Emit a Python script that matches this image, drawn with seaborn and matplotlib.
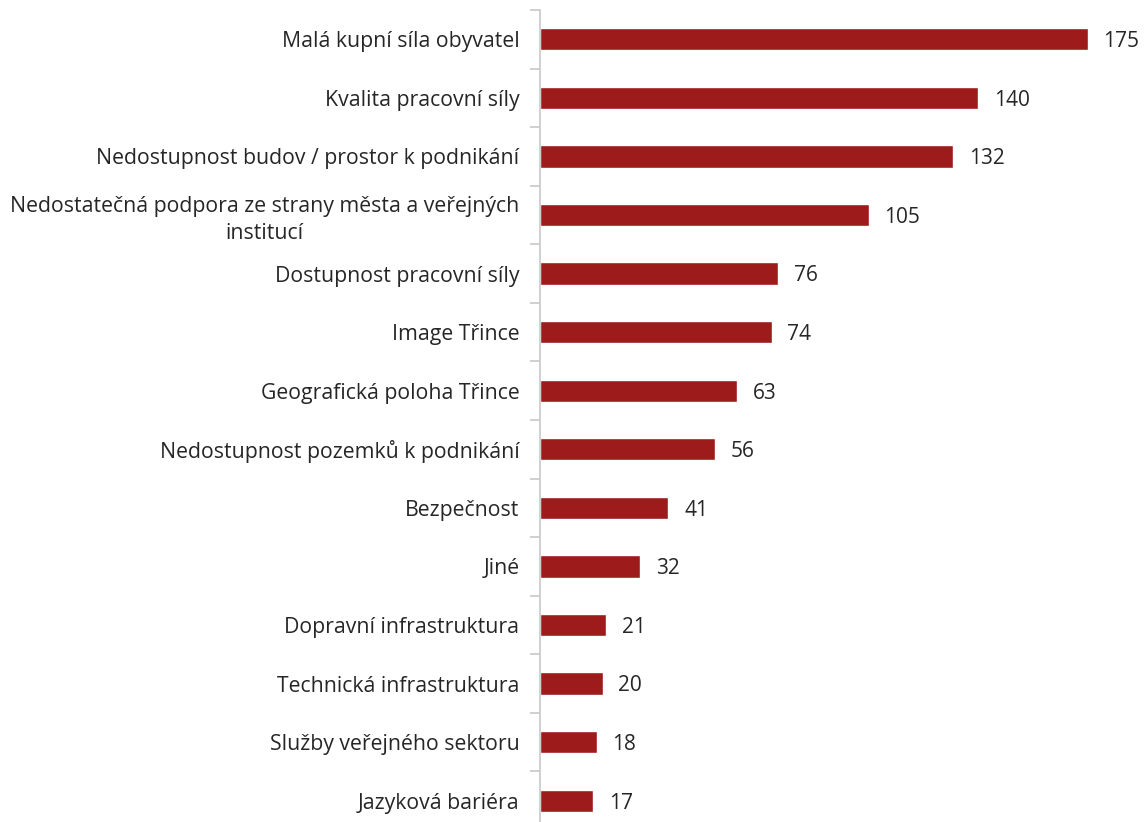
import matplotlib.pyplot as plt
import seaborn as sns
import numpy as np

categories = [
    "Malá kupní síla obyvatel",
    "Kvalita pracovní síly",
    "Nedostupnost budov / prostor k podnikání",
    "Nedostatečná podpora ze strany města a veřejných\ninstitucí",
    "Dostupnost pracovní síly",
    "Image Třince",
    "Geografická poloha Třince",
    "Nedostupnost pozemků k podnikání",
    "Bezpečnost",
    "Jiné",
    "Dopravní infrastruktura",
    "Technická infrastruktura",
    "Služby veřejného sektoru",
    "Jazyková bariéra",
]
values = [175, 140, 132, 105, 76, 74, 63, 56, 41, 32, 21, 20, 18, 17]

sns.set_style("white")
plt.rcParams['font.family'] = ['Open Sans', 'DejaVu Sans']

fig = plt.figure(figsize=(11.47, 8.22), dpi=100)
ax = fig.add_axes([0.471, -0.0097, 0.529, 0.9976])

sns.barplot(x=values, y=categories, orient='h', color='#9e1b1b',
            width=0.38, saturation=1, ax=ax)

for i, v in enumerate(values):
    ax.text(v + 5, i + 0.04, str(v), va='center', ha='left', fontsize=15, color='#262626')

ax.set_xlim(0, 194)
ax.set_ylim(13.5, -0.5)
ax.set_xticks([])
ax.set_xlabel("")
ax.set_ylabel("")
for s in ['top', 'right', 'bottom']:
    ax.spines[s].set_visible(False)
ax.spines['left'].set_color('#c8c8c8')
ax.spines['left'].set_linewidth(1.2)

ax.set_yticks(np.arange(-0.5, 14, 1), minor=True)
ax.tick_params(axis='y', which='major', length=0, pad=15, labelsize=15.3, labelcolor='#262626')
ax.tick_params(axis='y', which='minor', length=7, color='#c8c8c8', width=1.2, left=True)
for lbl in ax.get_yticklabels():
    lbl.set_horizontalalignment('right')
    lbl.set_multialignment('center')
    lbl.set_linespacing(1.35)

fig.savefig("out.png", dpi=100)
